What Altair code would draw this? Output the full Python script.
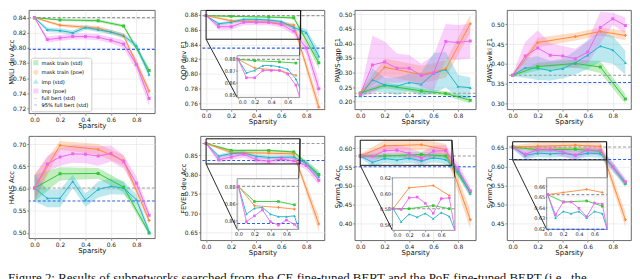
import altair as alt
import pandas as pd

SP_MASK = [0.0, 0.2, 0.5, 0.7, 0.9]
SP_IMP = [0.0, 0.1, 0.2, 0.3, 0.4, 0.5, 0.6, 0.7, 0.8, 0.9]
SERIES = ["mask train (std)", "mask train (poe)", "imp (std)", "imp (poe)",
          "full bert (std)", "95% full bert (std)"]
COLORS = ["#33c733", "#ff8a3d", "#1fb5c9", "#ee66ee", "#999999", "#2f5fe8"]
SHAPES = ["square", "cross", "triangle-up", "square", "stroke", "stroke"]
DASHES = [[1, 0], [1, 0], [1, 0], [1, 0], [3, 2], [3, 2]]
XTICKS = [0.0, 0.2, 0.4, 0.6, 0.8]
INSET_XTICKS = [0.0, 0.2, 0.4, 0.6]
CAPTION = ("Figure 2: Results of subnetworks searched from the CE fine-tuned BERT and the PoE "
           "fine-tuned BERT (i.e., the")

# ---------------- MNLI
MNLI_MTS = [0.840, 0.837, 0.836, 0.829, 0.770]
MNLI_MTS_SD = [0.001, 0.001, 0.002, 0.002, 0.004]
MNLI_MTP = [0.840, 0.830, 0.826, 0.816, 0.743]
MNLI_MTP_SD = [0.001, 0.002, 0.003, 0.003, 0.005]
MNLI_IMS = [0.840, 0.824, 0.823, 0.820, 0.827, 0.824, 0.821, 0.816, 0.803, 0.765]
MNLI_IMS_SD = [0.001, 0.003, 0.003, 0.003, 0.003, 0.003, 0.003, 0.003, 0.004, 0.005]
MNLI_IMP = [0.840, 0.811, 0.813, 0.815, 0.815, 0.814, 0.810, 0.805, 0.778, 0.733]
MNLI_IMP_SD = [0.001, 0.004, 0.004, 0.004, 0.004, 0.004, 0.004, 0.005, 0.008, 0.010]
MNLI_REF = [0.840, 0.798]
MNLI_YDOM = [0.7135, 0.850]
MNLI_YTICKS = [0.72, 0.74, 0.76, 0.78, 0.80, 0.82, 0.84]

# ---------------- QQP
QQP_MTS = [0.879, 0.878, 0.877, 0.876, 0.815]
QQP_MTS_SD = [0.001, 0.001, 0.001, 0.002, 0.008]
QQP_MTP = [0.879, 0.872, 0.870, 0.866, 0.755]
QQP_MTP_SD = [0.001, 0.002, 0.002, 0.003, 0.010]
QQP_IMS = [0.879, 0.868, 0.870, 0.874, 0.874, 0.873, 0.871, 0.863, 0.856, 0.824]
QQP_IMS_SD = [0.001, 0.002, 0.002, 0.002, 0.002, 0.002, 0.002, 0.003, 0.005, 0.008]
QQP_IMP = [0.879, 0.864, 0.864, 0.870, 0.870, 0.870, 0.867, 0.858, 0.835, 0.780]
QQP_IMP_SD = [0.001, 0.004, 0.004, 0.004, 0.004, 0.004, 0.004, 0.005, 0.008, 0.012]
QQP_REF = [0.879, 0.835]
QQP_YDOM = [0.752, 0.8865]
QQP_YTICKS = [0.76, 0.78, 0.80, 0.82, 0.84, 0.86, 0.88]
QQP_IN_XDOM = [-0.012, 0.745]
QQP_IN_YDOM = [0.848, 0.882]
QQP_IN_YTICKS = [0.85, 0.86, 0.87, 0.88]
QQP_RECT = [0.0, 0.755, 0.847, 0.886]

# ---------------- PAWS-qqp
PQ_MTS = [0.230, 0.256, 0.237, 0.228, 0.205]
PQ_MTS_SD = [0.005, 0.010, 0.008, 0.008, 0.010]
PQ_MTP = [0.230, 0.318, 0.293, 0.312, 0.467]
PQ_MTP_SD = [0.005, 0.030, 0.030, 0.030, 0.030]
PQ_IMS = [0.220, 0.275, 0.257, 0.253, 0.266, 0.260, 0.297, 0.310, 0.252, 0.248]
PQ_IMS_SD = [0.005, 0.040, 0.025, 0.030, 0.030, 0.040, 0.070, 0.060, 0.040, 0.035]
PQ_IMP = [0.225, 0.326, 0.336, 0.315, 0.315, 0.290, 0.298, 0.406, 0.403, 0.408]
PQ_IMP_SD = [0.005, 0.100, 0.070, 0.050, 0.045, 0.040, 0.060, 0.060, 0.060, 0.060]
PQ_REF = [0.229, 0.218]
PQ_YDOM = [0.174, 0.514]
PQ_YTICKS = [0.20, 0.25, 0.30, 0.35, 0.40, 0.45, 0.50]

# ---------------- PAWS-wiki
PW_MTS = [0.371, 0.393, 0.401, 0.392, 0.311]
PW_MTS_SD = [0.003, 0.010, 0.010, 0.015, 0.012]
PW_MTP = [0.371, 0.454, 0.469, 0.482, 0.472]
PW_MTP_SD = [0.003, 0.012, 0.010, 0.010, 0.012]
PW_IMS = [0.371, 0.390, 0.389, 0.383, 0.388, 0.403, 0.422, 0.445, 0.435, 0.403]
PW_IMS_SD = [0.003, 0.025, 0.030, 0.025, 0.025, 0.030, 0.035, 0.040, 0.035, 0.030]
PW_IMP = [0.371, 0.420, 0.440, 0.422, 0.420, 0.413, 0.430, 0.492, 0.514, 0.497]
PW_IMP_SD = [0.003, 0.035, 0.045, 0.030, 0.025, 0.025, 0.030, 0.040, 0.015, 0.020]
PW_REF = [0.371, 0.353]
PW_YDOM = [0.285, 0.536]
PW_YTICKS = [0.30, 0.35, 0.40, 0.45, 0.50]

# ---------------- HANS
HANS_MTS = [0.601, 0.633, 0.634, 0.603, 0.500]
HANS_MTS_SD = [0.030, 0.015, 0.012, 0.012, 0.005]
HANS_MTP = [0.601, 0.697, 0.688, 0.663, 0.528]
HANS_MTP_SD = [0.030, 0.010, 0.012, 0.012, 0.008]
HANS_IMS = [0.601, 0.578, 0.578, 0.616, 0.574, 0.598, 0.605, 0.601, 0.575, 0.503]
HANS_IMS_SD = [0.030, 0.020, 0.020, 0.015, 0.015, 0.018, 0.018, 0.015, 0.012, 0.008]
HANS_IMP = [0.601, 0.655, 0.671, 0.678, 0.677, 0.673, 0.679, 0.660, 0.612, 0.540]
HANS_IMP_SD = [0.030, 0.018, 0.020, 0.020, 0.020, 0.022, 0.018, 0.015, 0.015, 0.010]
HANS_REF = [0.601, 0.572]
HANS_YDOM = [0.488, 0.718]
HANS_YTICKS = [0.50, 0.55, 0.60, 0.65, 0.70]

# ---------------- FEVER
FEV_MTS = [0.880, 0.862, 0.862, 0.858, 0.800]
FEV_MTS_SD = [0.002, 0.003, 0.003, 0.003, 0.010]
FEV_MTP = [0.880, 0.857, 0.855, 0.853, 0.672]
FEV_MTP_SD = [0.002, 0.004, 0.004, 0.004, 0.020]
FEV_IMS = [0.880, 0.847, 0.854, 0.855, 0.847, 0.844, 0.844, 0.845, 0.828, 0.795]
FEV_IMS_SD = [0.002, 0.005, 0.005, 0.005, 0.005, 0.005, 0.005, 0.005, 0.008, 0.010]
FEV_IMP = [0.880, 0.838, 0.845, 0.852, 0.838, 0.834, 0.840, 0.835, 0.823, 0.785]
FEV_IMP_SD = [0.002, 0.008, 0.008, 0.008, 0.008, 0.008, 0.008, 0.008, 0.010, 0.012]
FEV_REF = [0.880, 0.836]
FEV_YDOM = [0.630, 0.899]
FEV_YTICKS = [0.65, 0.70, 0.75, 0.80, 0.85]
FEV_IN_XDOM = [-0.016, 0.753]
FEV_IN_YDOM = [0.829, 0.889]
FEV_IN_YTICKS = [0.84, 0.86, 0.88]
FEV_RECT = [0.0, 0.75, 0.827, 0.892]

# ---------------- Symm1
S1_MTS = [0.580, 0.580, 0.584, 0.580, 0.484]
S1_MTS_SD = [0.005, 0.008, 0.008, 0.008, 0.010]
S1_MTP = [0.580, 0.607, 0.610, 0.597, 0.410]
S1_MTP_SD = [0.005, 0.015, 0.015, 0.015, 0.025]
S1_IMS = [0.580, 0.563, 0.573, 0.569, 0.574, 0.567, 0.575, 0.570, 0.540, 0.480]
S1_IMS_SD = [0.005, 0.012, 0.012, 0.012, 0.012, 0.012, 0.012, 0.012, 0.012, 0.010]
S1_IMP = [0.580, 0.579, 0.594, 0.595, 0.587, 0.574, 0.593, 0.594, 0.545, 0.487]
S1_IMP_SD = [0.005, 0.015, 0.015, 0.015, 0.015, 0.015, 0.015, 0.015, 0.015, 0.012]
S1_REF = [0.580, 0.551]
S1_YDOM = [0.355, 0.633]
S1_YTICKS = [0.40, 0.45, 0.50, 0.55, 0.60]
S1_IN_XDOM = [-0.008, 0.77]
S1_IN_YDOM = [0.552, 0.620]
S1_IN_YTICKS = [0.56, 0.58, 0.60, 0.62]
S1_RECT = [0.0, 0.75, 0.555, 0.622]

# ---------------- Symm2
S2_MTS = [0.652, 0.645, 0.646, 0.641, 0.557]
S2_MTS_SD = [0.005, 0.006, 0.006, 0.006, 0.008]
S2_MTP = [0.652, 0.654, 0.657, 0.654, 0.460]
S2_MTP_SD = [0.005, 0.010, 0.010, 0.010, 0.020]
S2_IMS = [0.652, 0.630, 0.636, 0.634, 0.636, 0.630, 0.636, 0.634, 0.600, 0.555]
S2_IMS_SD = [0.005, 0.010, 0.010, 0.010, 0.010, 0.010, 0.010, 0.010, 0.012, 0.010]
S2_IMP = [0.652, 0.633, 0.645, 0.645, 0.639, 0.631, 0.644, 0.643, 0.600, 0.560]
S2_IMP_SD = [0.005, 0.012, 0.012, 0.012, 0.012, 0.012, 0.012, 0.012, 0.012, 0.010]
S2_REF = [0.652, 0.619]
S2_YDOM = [0.4055, 0.681]
S2_YTICKS = [0.45, 0.50, 0.55, 0.60, 0.65]
S2_IN_XDOM = [-0.013, 0.763]
S2_IN_YDOM = [0.619, 0.668]
S2_IN_YTICKS = [0.62, 0.63, 0.64, 0.65, 0.66]
S2_RECT = [0.0, 0.75, 0.618, 0.666]

XDOM = [-0.045, 0.945]

color_scale = alt.Scale(domain=SERIES, range=COLORS)
shape_scale = alt.Scale(domain=SERIES, range=SHAPES)
dash_scale = alt.Scale(domain=SERIES, range=DASHES)

LEGEND = alt.Legend(orient="none", legendX=2, legendY=48, title=None,
                    fillColor="white", strokeColor="#cccccc", padding=2.5,
                    cornerRadius=2, labelFontSize=5.2, labelFont="DejaVu Sans",
                    symbolSize=14, symbolStrokeWidth=1.2, symbolOpacity=1,
                    rowPadding=0.5, labelOffset=3, labelLimit=200)


def build(mts, mts_sd, mtp, mtp_sd, ims, ims_sd, imp, imp_sd):
    rows = []
    for name, xs, m, s in [(SERIES[0], SP_MASK, mts, mts_sd), (SERIES[1], SP_MASK, mtp, mtp_sd),
                           (SERIES[2], SP_IMP, ims, ims_sd), (SERIES[3], SP_IMP, imp, imp_sd)]:
        for x, v, d in zip(xs, m, s):
            rows.append(dict(sp=x, val=v, lo=v - d, hi=v + d, series=name))
    return pd.DataFrame(rows)


def panel(df, ref, ytitle, ydom, yticks, W, H, inset=None, legend=False):
    leg = LEGEND if legend else None
    leg_quiet = alt.Undefined if legend else None
    xs = alt.Scale(domain=XDOM, nice=False, zero=False)
    ys = alt.Scale(domain=ydom, nice=False, zero=False)
    xax = alt.Axis(values=XTICKS, format=".1f", title="Sparsity")
    yax = alt.Axis(values=yticks, format=".2f", title=ytitle)
    X = alt.X("sp:Q", scale=xs, axis=xax)
    base = alt.Chart(df)
    band = base.mark_area(opacity=0.3, clip=True).encode(
        x=X, y=alt.Y("lo:Q", scale=ys, axis=yax), y2="hi:Q",
        color=alt.Color("series:N", scale=color_scale, legend=leg_quiet))
    refdf = pd.DataFrame({"series": SERIES[4:], "val": ref})
    rules = alt.Chart(refdf).mark_rule(strokeWidth=1.1).encode(
        y=alt.Y("val:Q", scale=ys, axis=yax),
        color=alt.Color("series:N", scale=color_scale, legend=leg),
        strokeDash=alt.StrokeDash("series:N", scale=dash_scale, legend=leg))
    lines = base.mark_line(strokeWidth=1, clip=True).encode(
        x=X, y=alt.Y("val:Q", scale=ys, axis=yax),
        color=alt.Color("series:N", scale=color_scale, legend=leg_quiet))
    pts = base.mark_point(filled=True, size=9, opacity=1, clip=True).encode(
        x=X, y=alt.Y("val:Q", scale=ys, axis=yax),
        color=alt.Color("series:N", scale=color_scale, legend=leg),
        shape=alt.Shape("series:N", scale=shape_scale, legend=leg))
    main_layers = [band, rules, lines, pts]
    if inset is None:
        return alt.layer(*main_layers).properties(width=W, height=H)

    xdom, idom, iticks, rect, px, py = inset
    rdf = pd.DataFrame({"x0": [rect[0]], "x1": [rect[1]], "y0": [rect[2]], "y1": [rect[3]]})
    zoom = alt.Chart(rdf).mark_rect(fillOpacity=0, stroke="#111111", strokeWidth=1).encode(
        x=alt.X("x0:Q", scale=xs, axis=xax), x2="x1:Q",
        y=alt.Y("y0:Q", scale=ys, axis=yax), y2="y1:Q")
    c1 = alt.Chart(rdf).mark_rule(color="#111111", strokeWidth=0.9).encode(
        x=alt.X("x1:Q", scale=xs, axis=xax), y=alt.Y("y1:Q", scale=ys, axis=yax),
        x2=alt.value(px[1]), y2=alt.value(py[0]))
    c2 = alt.Chart(rdf).mark_rule(color="#111111", strokeWidth=0.9).encode(
        x=alt.X("x0:Q", scale=xs, axis=xax), y=alt.Y("y0:Q", scale=ys, axis=yax),
        x2=alt.value(px[0]), y2=alt.value(py[1]))
    main = alt.layer(*main_layers, zoom, c1, c2)

    ixs = alt.Scale(domain=xdom, range=[px[0], px[1]], nice=False, zero=False, clamp=True)
    iys = alt.Scale(domain=idom, range=[py[1], py[0]], nice=False, zero=False, clamp=True)
    ixax = alt.Axis(values=INSET_XTICKS, format=".1f", title=None, orient="bottom",
                    offset=py[1] - H, grid=False, domain=False, labelFontSize=5,
                    tickSize=1.5, labelPadding=0.5, zindex=1, minExtent=0, maxExtent=8)
    iyax = alt.Axis(values=iticks, format=".2f", title=None, orient="left",
                    offset=-px[0], grid=False, domain=False, labelFontSize=5,
                    tickSize=1.5, labelPadding=0.5, zindex=1, minExtent=0, maxExtent=14)
    fdf = pd.DataFrame({"x0": [xdom[0]], "x1": [xdom[1]], "y0": [idom[0]], "y1": [idom[1]]})
    IX = alt.X("x0:Q", scale=ixs, axis=ixax)
    IY = alt.Y("y0:Q", scale=iys, axis=iyax)
    frame = alt.Chart(fdf).mark_rect(fill="white", stroke="#777777", strokeWidth=0.8).encode(
        x=IX, x2="x1:Q", y=IY, y2="y1:Q")
    vg = alt.Chart(pd.DataFrame({"t": INSET_XTICKS, "y0": idom[0], "y1": idom[1]})).mark_rule(
        color="#e4e4e4", strokeWidth=0.5).encode(
        x=alt.X("t:Q", scale=ixs, axis=ixax), y=IY, y2="y1:Q")
    hg = alt.Chart(pd.DataFrame({"t": iticks, "x0": xdom[0], "x1": xdom[1]})).mark_rule(
        color="#e4e4e4", strokeWidth=0.5).encode(
        y=alt.Y("t:Q", scale=iys, axis=iyax), x=IX, x2="x1:Q")
    iref = refdf[(refdf.val >= idom[0]) & (refdf.val <= idom[1])].copy()
    iref["x0"] = xdom[0]
    iref["x1"] = xdom[1]
    irules = alt.Chart(iref).mark_rule(strokeWidth=1.1).encode(
        x=IX, x2="x1:Q", y=alt.Y("val:Q", scale=iys, axis=iyax),
        color=alt.Color("series:N", scale=color_scale, legend=None),
        strokeDash=alt.StrokeDash("series:N", scale=dash_scale, legend=None))
    ldf = df[df.sp <= 0.8]
    pdf = df[(df.sp <= xdom[1]) & (df.val >= idom[0]) & (df.val <= idom[1])]
    ilines = alt.Chart(ldf).mark_line(strokeWidth=0.9).encode(
        x=alt.X("sp:Q", scale=ixs, axis=ixax), y=alt.Y("val:Q", scale=iys, axis=iyax),
        color=alt.Color("series:N", scale=color_scale, legend=None))
    ipts = alt.Chart(pdf).mark_point(filled=True, size=7, opacity=1).encode(
        x=alt.X("sp:Q", scale=ixs, axis=ixax), y=alt.Y("val:Q", scale=iys, axis=iyax),
        color=alt.Color("series:N", scale=color_scale, legend=None),
        shape=alt.Shape("series:N", scale=shape_scale, legend=None))
    ins = alt.layer(frame, vg, hg, irules, ilines, ipts)
    return alt.layer(main, ins).resolve_scale(x="independent", y="independent").properties(
        width=W, height=H)


p_mnli = panel(build(MNLI_MTS, MNLI_MTS_SD, MNLI_MTP, MNLI_MTP_SD, MNLI_IMS, MNLI_IMS_SD,
                     MNLI_IMP, MNLI_IMP_SD), MNLI_REF, "MNLI dev Acc", MNLI_YDOM, MNLI_YTICKS,
               127, 104, legend=True)
p_qqp = panel(build(QQP_MTS, QQP_MTS_SD, QQP_MTP, QQP_MTP_SD, QQP_IMS, QQP_IMS_SD,
                    QQP_IMP, QQP_IMP_SD), QQP_REF, "QQP dev F1", QQP_YDOM, QQP_YTICKS, 125, 100,
              inset=(QQP_IN_XDOM, QQP_IN_YDOM, QQP_IN_YTICKS, QQP_RECT, (37, 100), (46, 88)))
p_pq = panel(build(PQ_MTS, PQ_MTS_SD, PQ_MTP, PQ_MTP_SD, PQ_IMS, PQ_IMS_SD, PQ_IMP, PQ_IMP_SD),
             PQ_REF, "PAWS-qqp F1", PQ_YDOM, PQ_YTICKS, 122, 100)
p_pw = panel(build(PW_MTS, PW_MTS_SD, PW_MTP, PW_MTP_SD, PW_IMS, PW_IMS_SD, PW_IMP, PW_IMP_SD),
             PW_REF, "PAWS-wiki F1", PW_YDOM, PW_YTICKS, 125, 100)
p_hans = panel(build(HANS_MTS, HANS_MTS_SD, HANS_MTP, HANS_MTP_SD, HANS_IMS, HANS_IMS_SD,
                     HANS_IMP, HANS_IMP_SD), HANS_REF, "HANS Acc", HANS_YDOM, HANS_YTICKS, 127, 103)
p_fev = panel(build(FEV_MTS, FEV_MTS_SD, FEV_MTP, FEV_MTP_SD, FEV_IMS, FEV_IMS_SD,
                    FEV_IMP, FEV_IMP_SD), FEV_REF, "FEVER dev Acc", FEV_YDOM, FEV_YTICKS, 125, 105,
              inset=(FEV_IN_XDOM, FEV_IN_YDOM, FEV_IN_YTICKS, FEV_RECT, (37, 99), (43, 94)))
p_s1 = panel(build(S1_MTS, S1_MTS_SD, S1_MTP, S1_MTP_SD, S1_IMS, S1_IMS_SD, S1_IMP, S1_IMP_SD),
             S1_REF, "Symm1 Acc", S1_YDOM, S1_YTICKS, 122, 105,
             inset=(S1_IN_XDOM, S1_IN_YDOM, S1_IN_YTICKS, S1_RECT, (38, 101), (42, 95)))
p_s2 = panel(build(S2_MTS, S2_MTS_SD, S2_MTP, S2_MTP_SD, S2_IMS, S2_IMS_SD, S2_IMP, S2_IMP_SD),
             S2_REF, "Symm2 Acc", S2_YDOM, S2_YTICKS, 125, 105,
             inset=(S2_IN_XDOM, S2_IN_YDOM, S2_IN_YTICKS, S2_RECT, (40, 101), (42, 94)))

IND = dict(color="independent", shape="independent", strokeDash="independent")


def row(a, b, c, d):
    left = alt.hconcat(a, b, spacing=24).resolve_scale(**IND)
    right = alt.hconcat(c, d, spacing=9.5).resolve_scale(**IND)
    return alt.hconcat(left, right, spacing=8.5).resolve_scale(**IND)


chart = alt.vconcat(row(p_mnli, p_qqp, p_pq, p_pw), row(p_hans, p_fev, p_s1, p_s2),
                    spacing=6).resolve_scale(**IND).properties(
    padding=0,
    title=alt.TitleParams(CAPTION, orient="bottom", anchor="start", font="Liberation Serif",
                          fontSize=13, fontWeight="normal", offset=16, color="#111111")
).configure_view(stroke="#444444", strokeWidth=0.8).configure_axis(
    labelFont="DejaVu Sans", titleFont="DejaVu Sans", labelFontSize=6, titleFontSize=7,
    titleFontWeight="normal", labelColor="#222222", titleColor="#111111", tickColor="#444444",
    tickSize=2, tickWidth=0.6, labelPadding=1, titlePadding=0.5, domain=False,
    gridColor="#e2e2e2", gridWidth=0.6
).configure_axisY(minExtent=14, maxExtent=14, titleFontSize=6.8).configure_axisX(
    minExtent=8, maxExtent=8)

chart.save("out.html", embed_options={"renderer": "svg", "actions": False})
